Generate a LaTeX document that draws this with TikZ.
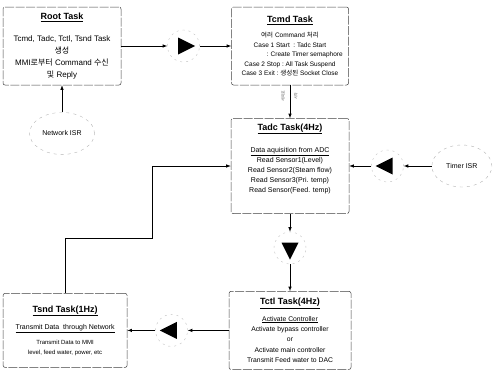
\documentclass[tikz,border=0pt]{standalone}
\usepackage{fontspec}
\setmainfont{Liberation Sans}
\newfontfamily\kr{Noto Sans CJK KR}
\usetikzlibrary{shapes.geometric,arrows,positioning,calc}

\newcommand{\tasktitle}[1]{{\fontsize{9}{11}\selectfont\bfseries\underline{#1}}}

\begin{document}
\begin{tikzpicture}[
        x=1pt, y=-1pt,
        font=\fontsize{7}{10}\selectfont,
        task/.style={draw=black!75, dash pattern=on 9pt off 1.5pt, rounded corners=2pt, line width=0.5pt, align=center, inner sep=2pt},
        isr/.style={ellipse, draw=black!30, dash pattern=on 3pt off 4pt, minimum width=60pt, minimum height=42pt, align=center},
        tri/.style={isosceles triangle, isosceles triangle stretches, fill=black, inner sep=0pt, minimum height=17pt, minimum width=17pt, shape border rotate=#1},
        ring/.style={circle, draw=black!25, dash pattern=on 2pt off 4pt, minimum size=32pt, inner sep=0pt},
        arrow/.style={->, >=latex, line width=0.6pt}
    ]
        \useasboundingbox (0,0) rectangle (493,370);

        \node[task, minimum width=118pt, minimum height=78pt, font=\fontsize{8}{12}\selectfont] (root) at (62,46)
            {\tasktitle{Root Task}\\[10pt]Tcmd, Tadc, Tctl, Tsnd Task\\{\kr 생성}\\MMI{\kr 로부터} Command {\kr 수신}\\{\kr 및} Reply};
        \node[task, right=110pt of root, minimum width=117pt, minimum height=78pt, font=\fontsize{6.5}{9.4}\selectfont] (tcmd)
            {\tasktitle{Tcmd Task}\\[6pt]{\kr 여러} Command {\kr 처리}\\Case 1 Start\ \ :\ Tadc Start\\\hspace*{4.5em}: Create Timer semaphore\\Case 2 Stop\ :\ All Task Suspend\\Case 3 Exit\ :\ {\kr 생성된} Socket Close};
        \node[task, below=33pt of tcmd, minimum width=118pt, minimum height=95pt] (tadc)
            {\tasktitle{Tadc Task(4Hz)}\\[12pt]\underline{Data aquisition from ADC}\\Read Sensor1(Level)\\Read Sensor2(Steam flow)\\Read Sensor3(Pri. temp)\\Read Sensor(Feed. temp)\\[6pt]\mbox{}};

        \node[ring, right=22pt of tadc] (r2) {};
        \node[tri=180] (g2) at (r2) {};
        \node[isr, right=28pt of r2] (timer) {Timer ISR};

        \node[ring, below=18pt of tadc] (r3) {};
        \node[tri=270] (g3) at (r3) {};
        \node[task, below=27pt of r3, minimum width=122pt, minimum height=78pt, font=\fontsize{6.8}{10.4}\selectfont] (tctl)
            {\tasktitle{Tctl Task(4Hz)}\\[6pt]\underline{Activate Controller}\\Activate bypass controller\\or\\Activate main controller\\Transmit Feed water to DAC};

        \node[ring, left=41pt of tctl] (r4) {};
        \node[tri=180] (g4) at (r4) {};
        \node[task, left=28pt of r4, minimum width=124pt, minimum height=74pt] (tsnd)
            {\tasktitle{Tsnd Task(1Hz)}\\[7pt]\underline{Transmit Data\ \ through Network}\\[5pt]{\fontsize{6}{9}\selectfont Transmit Data to MMI}\\{\fontsize{6}{9}\selectfont level, feed water, power, etc}};

        \node[ring, right=46pt of root] (r1) {};
        \node[tri=0] (g1) at (r1) {};
        \node[isr, below=27pt of root] (net) {Network ISR};

        % small marks beside the Tcmd -> Tadc arrow
        \node[rotate=90, text=black!60, font=\kr\fontsize{4}{4}\selectfont] (lbla) at (283,96) {세마포};
        \node[rotate=90, text=black!60, font=\kr\fontsize{4}{4}\selectfont] (lblb) at (296,96) {시작};

        \coordinate (fb) at (152,238);

        \draw[arrow] (root) -- (r1);
        \draw[arrow] (r1) -- (tcmd);
        \draw[arrow] (tcmd) -- (tadc);
        \draw[arrow] (timer) -- (r2);
        \draw[arrow] (r2) -- (tadc);
        \draw[arrow] (tadc) -- (r3);
        \draw[arrow] (r3) -- (tctl);
        \draw[arrow] (tctl) -- (r4);
        \draw[arrow] (r4) -- (tsnd);
        \draw[arrow] (net) -- (root);
        \draw[arrow] (tsnd.north) |- (fb) |- (tadc.west);
    \end{tikzpicture}
\end{document}
